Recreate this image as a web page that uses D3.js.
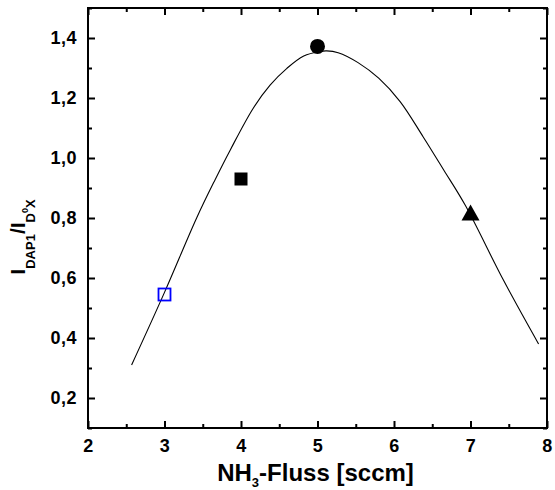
<!DOCTYPE html>
<html><head><meta charset="utf-8">
<script src="https://cdn.jsdelivr.net/npm/d3@7"></script>
<style>body{margin:0;background:#fff}svg{display:block}text{font-family:"Liberation Sans",Arial,sans-serif;font-weight:bold}</style>
</head><body>
<script>
// measured points
const pointX = [3, 4, 5, 7];
const pointY = [0.545, 0.93, 1.372, 0.812];
const pointShape = ["openSquare", "square", "circle", "triangle"];
// fit curve
const curveX = [2.57, 3.0, 3.42, 3.66, 3.86, 4.16, 4.38, 4.60, 4.82, 5.03, 5.12, 5.27, 5.53, 5.80, 6.08, 6.38, 6.65, 6.93, 7.43, 7.89];
const curveY = [0.31, 0.552, 0.80, 0.927, 1.027, 1.166, 1.243, 1.299, 1.34, 1.355, 1.357, 1.351, 1.318, 1.266, 1.188, 1.071, 0.96, 0.843, 0.593, 0.38];
const xTicks = [2, 3, 4, 5, 6, 7, 8];
const yTicks = [0.2, 0.4, 0.6, 0.8, 1.0, 1.2, 1.4];
const xMinor = [2.5, 3.5, 4.5, 5.5, 6.5, 7.5];
const yMinor = [0.1, 0.3, 0.5, 0.7, 0.9, 1.1, 1.3, 1.5];

const W = 555, H = 490;
const m = {left: 88, right: 8, top: 8, bottom: 62};
const svg = d3.select("body").append("svg").attr("width", W).attr("height", H);
const x = d3.scaleLinear().domain([2, 8]).range([m.left, W - m.right]);
const y = d3.scaleLinear().domain([0.1, 1.5]).range([H - m.bottom, m.top]);
const fmt = d => d3.format(".1f")(d).replace(".", ",");

function drawAxis(makeAxis, tr, major, minor, fmtFn) {
  const g = svg.append("g").attr("transform", tr);
  g.call(makeAxis().tickValues(major).tickSizeInner(-7).tickSizeOuter(0).tickPadding(11).tickFormat(fmtFn || (() => "")));
  g.select(".domain").remove();
  g.selectAll(".tick line").attr("stroke", "#000").attr("stroke-width", 2);
  g.selectAll(".tick text").attr("font-size", 18).attr("letter-spacing", "0.5px").attr("fill", "#000")
    .attr("font-family", "'Liberation Sans',Arial,sans-serif").attr("font-weight", "bold");
  const g2 = svg.append("g").attr("transform", tr);
  g2.call(makeAxis().tickValues(minor).tickSizeInner(-4).tickSizeOuter(0).tickFormat(() => ""));
  g2.select(".domain").remove();
  g2.selectAll(".tick line").attr("stroke", "#000").attr("stroke-width", 2);
  return g;
}
drawAxis(() => d3.axisBottom(x), `translate(0,${y(0.1)})`, xTicks, xMinor, d3.format("d"));
drawAxis(() => d3.axisTop(x), `translate(0,${y(1.5)})`, xTicks, xMinor, null);
drawAxis(() => d3.axisLeft(y), `translate(${x(2)},0)`, yTicks, yMinor, fmt);
drawAxis(() => d3.axisRight(y), `translate(${x(8)},0)`, yTicks, yMinor, null);

svg.append("rect").attr("x", x(2)).attr("y", y(1.5)).attr("width", x(8) - x(2)).attr("height", y(0.1) - y(1.5))
  .attr("fill", "none").attr("stroke", "#000").attr("stroke-width", 2);

// curve
const line = d3.line().x(d => x(d[0])).y(d => y(d[1])).curve(d3.curveCatmullRom);
svg.append("path").datum(d3.zip(curveX, curveY)).attr("d", line).attr("fill", "none").attr("stroke", "#000").attr("stroke-width", 1.1);

// markers
pointX.forEach((px, i) => {
  const cx = x(px), cy = y(pointY[i]), s = pointShape[i];
  if (s === "openSquare") svg.append("rect").attr("x", cx - 6).attr("y", cy - 6).attr("width", 12).attr("height", 12).attr("fill", "none").attr("stroke", "#0000ff").attr("stroke-width", 1.8);
  else if (s === "square") svg.append("rect").attr("x", cx - 6.5).attr("y", cy - 6.5).attr("width", 13).attr("height", 13).attr("fill", "#000");
  else if (s === "circle") svg.append("circle").attr("cx", cx).attr("cy", cy).attr("r", 7.5).attr("fill", "#000");
  else if (s === "triangle") svg.append("path").attr("d", `M${cx},${cy - 10}L${cx + 9},${cy + 6}L${cx - 9},${cy + 6}Z`).attr("fill", "#000");
});

// x title
const xt = svg.append("text").attr("x", (x(2) + x(8)) / 2 - 2).attr("y", 481).attr("text-anchor", "middle").attr("font-size", 24).attr("fill", "#000");
xt.append("tspan").text("NH");
xt.append("tspan").attr("font-size", 13).attr("dy", 6).text("3");
xt.append("tspan").attr("dy", -6).text("-Fluss [sccm]");

// y title
const yt = svg.append("text").attr("transform", `translate(25,237) rotate(-90)`).attr("text-anchor", "middle").attr("font-size", 21).attr("fill", "#000");
yt.append("tspan").text("I");
yt.append("tspan").attr("font-size", 13).attr("dy", 10).text("DAP1");
yt.append("tspan").attr("dy", -10).text("/I");
yt.append("tspan").attr("font-size", 13).attr("dy", 10).text("D");
yt.append("tspan").attr("font-size", 9).attr("dy", -7).text("0");
yt.append("tspan").attr("font-size", 13).attr("dy", 7).text("X");
</script>
</body></html>
